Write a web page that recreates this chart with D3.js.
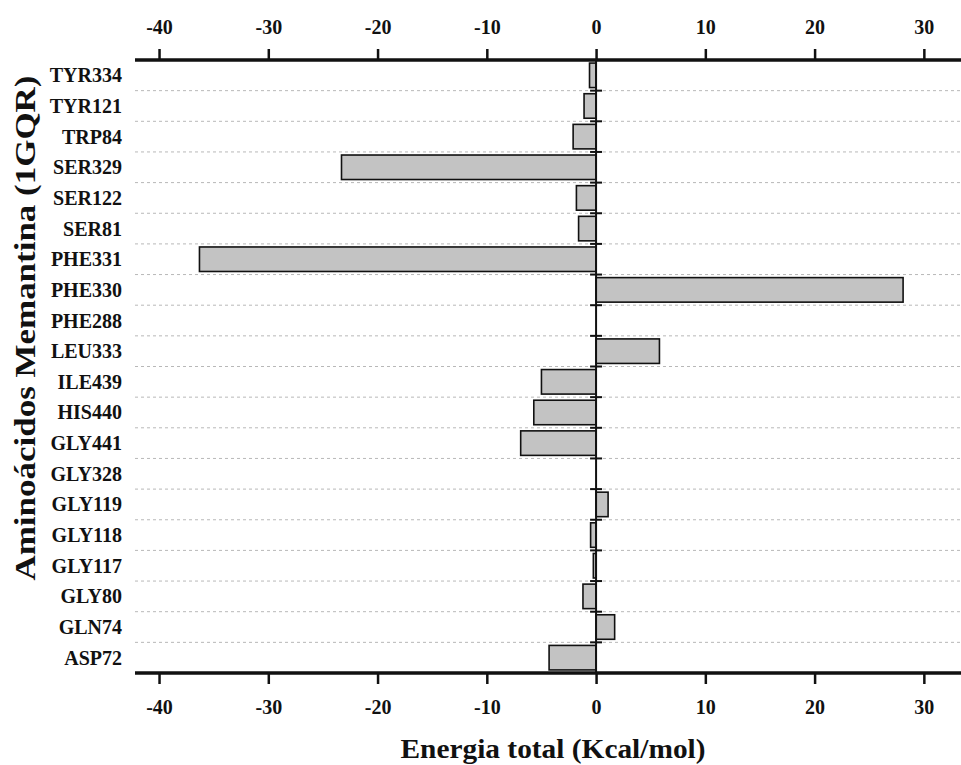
<!DOCTYPE html>
<html>
<head>
<meta charset="utf-8">
<script src="https://cdn.jsdelivr.net/npm/d3@7"></script>
<style>
  html, body { margin: 0; padding: 0; background: #fff; }
  svg { display: block; }
  text { font-family: "Liberation Serif", "Times New Roman", serif; font-weight: bold; fill: #111; }
</style>
</head>
<body>
<svg id="chart" width="961" height="765"></svg>
<script>
// Residues, top to bottom
const residues = [
  "TYR334", "TYR121", "TRP84", "SER329", "SER122", "SER81", "PHE331",
  "PHE330", "PHE288", "LEU333", "ILE439", "HIS440", "GLY441", "GLY328",
  "GLY119", "GLY118", "GLY117", "GLY80", "GLN74", "ASP72"
];
// Total interaction energy per residue (Kcal/mol)
const energies = [
  -0.6, -1.1, -2.1, -23.3, -1.8, -1.6, -36.3,
  28.1, 0.0, 5.8, -5.0, -5.7, -6.9, 0.0,
  1.1, -0.5, -0.25, -1.2, 1.7, -4.3
];
const majorTicks = [-40, -30, -20, -10, 0, 10, 20, 30];
const minorTicks = d3.range(-40, 33, 2).filter(v => v % 10 !== 0);
const xTitle = "Energia total (Kcal/mol)";
const yTitle = "Aminoácidos Memantina (1GQR)";

const svg = d3.select("#chart");
const plotLeft = 135, plotRight = 961, plotTop = 60, plotBottom = 673;

const x = d3.scaleLinear().domain([-42.2, 33.4]).range([plotLeft, plotRight]);
const y = d3.scaleBand().domain(residues).range([plotTop, plotBottom]).paddingInner(0.2).paddingOuter(0.1);
const rowStep = (plotBottom - plotTop) / residues.length;

// Dashed row separators
const boundaries = d3.range(1, residues.length).map(i => plotTop + i * rowStep);
svg.append("g").selectAll("line").data(boundaries).join("line")
  .attr("x1", plotLeft).attr("x2", plotRight)
  .attr("y1", d => d).attr("y2", d => d)
  .attr("stroke", "#b8b8b8").attr("stroke-width", 1)
  .attr("stroke-dasharray", "3,3");

// Bars
const data = residues.map((r, i) => ({ r, v: energies[i] }));
svg.append("g").selectAll("rect").data(data).join("rect")
  .attr("x", d => x(Math.min(0, d.v)))
  .attr("width", d => Math.abs(x(d.v) - x(0)))
  .attr("y", d => y(d.r))
  .attr("height", y.bandwidth())
  .attr("fill", "#c3c3c3")
  .attr("stroke", "#111")
  .attr("stroke-width", 1.6);

// Zero line with row ticks
svg.append("line")
  .attr("x1", x(0)).attr("x2", x(0)).attr("y1", plotTop).attr("y2", plotBottom)
  .attr("stroke", "#111").attr("stroke-width", 2);
svg.append("g").selectAll("line").data(boundaries).join("line")
  .attr("x1", x(0) - 6).attr("x2", x(0) + 6)
  .attr("y1", d => d).attr("y2", d => d)
  .attr("stroke", "#111").attr("stroke-width", 2);

// Category labels
svg.append("g").selectAll("text").data(residues).join("text")
  .attr("x", 122)
  .attr("y", d => y(d) + y.bandwidth() / 2)
  .attr("dy", "0.35em")
  .attr("text-anchor", "end")
  .attr("font-size", 20)
  .text(d => d);

// Top and bottom axes
function drawAxis(axisFn, yPos, labelDy) {
  const g = svg.append("g").attr("transform", `translate(0,${yPos})`);
  g.call(axisFn(x).tickValues(minorTicks).tickSize(6).tickFormat(""));
  g.call(axisFn(x).tickValues(majorTicks).tickSize(11).tickFormat(d => String(d)));
  g.selectAll(".domain").remove();
  g.selectAll(".tick line").attr("stroke", "#111").attr("stroke-width", 2.5);
  g.selectAll(".tick text")
    .attr("font-size", 20)
    .attr("font-family", "Liberation Serif, serif")
    .attr("font-weight", "bold")
    .attr("fill", "#111")
    .attr("y", labelDy)
    .attr("dy", "0.35em");
  g.append("line").attr("x1", plotLeft).attr("x2", plotRight)
    .attr("stroke", "#111").attr("stroke-width", 3.5);
}
drawAxis(d3.axisTop, plotTop, -33);
drawAxis(d3.axisBottom, plotBottom, 34);

// Axis titles
svg.append("text")
  .attr("x", 553).attr("y", 758)
  .attr("text-anchor", "middle")
  .attr("font-size", 28)
  .attr("textLength", 305).attr("lengthAdjust", "spacingAndGlyphs")
  .text(xTitle);
svg.append("text")
  .attr("transform", `translate(35,${328}) rotate(-90)`)
  .attr("text-anchor", "middle")
  .attr("font-size", 30)
  .attr("textLength", 505).attr("lengthAdjust", "spacingAndGlyphs")
  .text(yTitle);
</script>
</body>
</html>
